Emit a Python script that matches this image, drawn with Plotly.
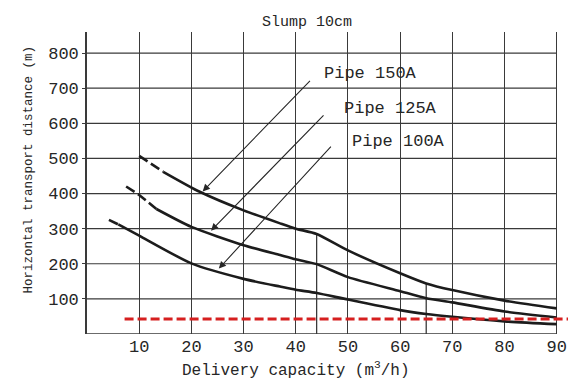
import plotly.graph_objects as go

# ---- data ----
x_150 = [10, 14.6, 21.6, 30, 37, 40, 44, 50, 60, 65, 70, 80, 90]
y_150 = [507, 462, 405, 352, 315, 300, 285, 238, 173, 144, 125, 95, 73]
x_125 = [7.5, 10, 13.3, 20, 30, 37, 40, 44, 50, 60, 65, 70, 80, 90]
y_125 = [420, 396, 356, 305, 253, 225, 213, 199, 162, 122, 102, 90, 64, 47]
x_100 = [4.2, 6, 10, 20, 30, 37, 40, 44, 50, 60, 65, 70, 80, 90]
y_100 = [325, 312, 280, 201, 157, 135, 126, 117, 98, 68, 57, 49, 36, 28]

# dashed lead-in lengths (number of leading points drawn dashed)
lead_150 = 2
lead_125 = 3
lead_100 = 2

# vertical drop lines at curve knees
knee_x = [44, 65]
knee_y = [285, 144]

# red reference line
ref_y = 43
ref_x = [7.2, 93.7]

x_ticks = [10, 20, 30, 40, 50, 60, 70, 80, 90]
y_ticks = [100, 200, 300, 400, 500, 600, 700, 800]

labels = ["Pipe 150A", "Pipe 125A", "Pipe 100A"]
label_x = [45, 48.8, 50.4]
label_y = [743, 641, 548]
arrow_tail_x = [43, 45.6, 47.0]
arrow_tail_y = [725, 627, 538]
arrow_head_x = [21.9, 23.5, 25.0]
arrow_head_y = [402, 290, 182]

X_MAX = 93.7
Y_MAX = 860

FONT = "Liberation Mono"
INK = "#262626"
CURVE = "#1c1c1c"
GRID = "#3a3a3a"

fig = go.Figure()

# knee drop lines
for kx, ky in zip(knee_x, knee_y):
    fig.add_trace(go.Scatter(x=[kx, kx], y=[0, ky], mode="lines",
                             line=dict(color=GRID, width=1.3),
                             hoverinfo="skip", showlegend=False))

# curves
for xs, ys, lead in [(x_150, y_150, lead_150), (x_125, y_125, lead_125), (x_100, y_100, lead_100)]:
    fig.add_trace(go.Scatter(x=xs[:lead], y=ys[:lead], mode="lines",
                             line=dict(color=CURVE, width=2.6, dash="10px,4px"),
                             showlegend=False))
    fig.add_trace(go.Scatter(x=xs[lead - 1:], y=ys[lead - 1:], mode="lines",
                             line=dict(color=CURVE, width=2.6, shape="spline", smoothing=0.6),
                             showlegend=False))

# red dashed reference line
fig.add_trace(go.Scatter(x=ref_x, y=[ref_y, ref_y], mode="lines",
                         line=dict(color="#d61f1f", width=3, dash="9px,4px"),
                         showlegend=False))

# horizontal grid lines (stop at x = 90) and bottom axis line
shapes = []
for yv in y_ticks:
    shapes.append(dict(type="line", xref="x", yref="y", x0=0, x1=x_ticks[-1], y0=yv, y1=yv,
                       line=dict(color=GRID, width=1.2), layer="below"))
shapes.append(dict(type="line", xref="x", yref="y", x0=0, x1=x_ticks[-1], y0=0, y1=0,
                   line=dict(color=GRID, width=1.6), layer="below"))

annotations = []
for t, lx, ly in zip(labels, label_x, label_y):
    annotations.append(dict(x=lx, y=ly, xref="x", yref="y", text=t, showarrow=False,
                            xanchor="left", yanchor="middle",
                            font=dict(family=FONT, size=17, color=INK)))
for tx, ty, hx, hy in zip(arrow_tail_x, arrow_tail_y, arrow_head_x, arrow_head_y):
    annotations.append(dict(x=hx, y=hy, ax=tx, ay=ty, xref="x", yref="y", axref="x", ayref="y",
                            text="", showarrow=True, arrowhead=2, arrowsize=1.3,
                            arrowwidth=1.1, arrowcolor=INK, standoff=2))

annotations.append(dict(x=0.449, y=1.03, xref="paper", yref="paper", text="Slump 10cm",
                        showarrow=False, xanchor="center", yanchor="middle",
                        font=dict(family=FONT, size=15, color=INK)))
annotations.append(dict(x=0.427, y=-0.119, xref="paper", yref="paper",
                        text="Delivery capacity (m<sup>3</sup>/h)",
                        showarrow=False, xanchor="center", yanchor="middle",
                        font=dict(family=FONT, size=16, color=INK)))
annotations.append(dict(x=-0.1186, y=0.545, xref="paper", yref="paper",
                        text="Horizontal transport distance (m)", textangle=-90,
                        showarrow=False, xanchor="center", yanchor="middle",
                        font=dict(family=FONT, size=12.5, color=INK)))

# the page body adds an 8px offset, so the figure is 8px smaller
fig.update_layout(
    width=568, height=375,
    margin=dict(l=79, r=0, t=24, b=49),
    paper_bgcolor="#ffffff", plot_bgcolor="#ffffff",
    showlegend=False,
    shapes=shapes, annotations=annotations,
    font=dict(family=FONT, color=INK),
)
fig.update_xaxes(range=[0, X_MAX], tickvals=x_ticks, ticktext=[str(v) for v in x_ticks],
                 showgrid=True, gridcolor=GRID, gridwidth=1.2, zeroline=False,
                 showline=False, ticks="", tickfont=dict(family=FONT, size=17, color=INK))
fig.update_yaxes(range=[0, Y_MAX], tickvals=y_ticks, ticktext=[str(v) for v in y_ticks],
                 showgrid=False, zeroline=False, showline=True, linecolor=GRID, linewidth=1.6,
                 ticks="outside", ticklen=3, tickcolor=GRID,
                 tickfont=dict(family=FONT, size=17, color=INK))

fig.write_html("out.html")
